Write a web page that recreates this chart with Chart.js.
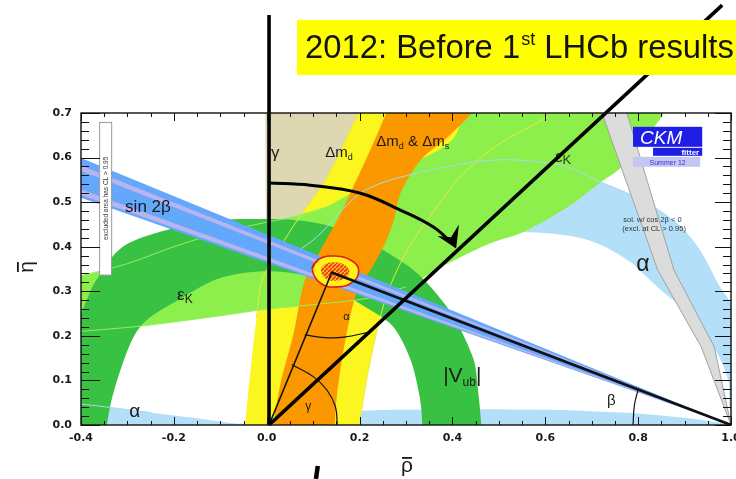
<!DOCTYPE html>
<html>
<head>
<meta charset="utf-8">
<script src="https://cdn.jsdelivr.net/npm/chart.js@4.4.1/dist/chart.umd.min.js"></script>
<style>
  html, body { margin: 0; padding: 0; background: #ffffff; }
  #c { display: block; }
</style>
</head>
<body>
<canvas id="c" width="736" height="479"></canvas>
<script>
// Axis tick labels
const rhoTicks = [-0.4, -0.2, 0.0, 0.2, 0.4, 0.6, 0.8, 1.0];
const etaTicks = [0.0, 0.1, 0.2, 0.3, 0.4, 0.5, 0.6, 0.7];

// Constraint regions, boundary points as [rho, eta]
const gammaWedge = [[0.0, 0.0], [-0.004, 0.95], [0.83, 0.95], [0.0, 0.0]];
const alphaStrip = [[-0.45, -0.1], [-0.45, 0.052], [-0.4, 0.047], [-0.35, 0.041], [-0.25, 0.028], [-0.15, 0.015],
  [-0.06, 0.003], [0.0, 0.005], [0.1, 0.02], [0.2, 0.032], [0.4, 0.035], [0.6, 0.034], [0.7, 0.031], [0.8, 0.026],
  [0.9, 0.016], [0.97, 0.006], [1.0, 0.0], [1.05, -0.1]];
const alphaCrescent = [[0.05, 0.33], [0.06, 0.385], [0.108, 0.422], [0.202, 0.52], [0.288, 0.556], [0.482, 0.594],
  [0.633, 0.583], [0.72, 0.545], [0.811, 0.505], [0.884, 0.453], [0.933, 0.393], [0.976, 0.31], [1.02, 0.236],
  [1.03, 0.0], [1.0, 0.025], [0.994, 0.101], [0.963, 0.175], [0.907, 0.251], [0.849, 0.303], [0.821, 0.33],
  [0.784, 0.365], [0.72, 0.404], [0.655, 0.424], [0.553, 0.433], [0.45, 0.428], [0.35, 0.41], [0.2, 0.37],
  [0.1, 0.34], [0.05, 0.33]];
const dmdOuter = [[-0.05, -0.1], [-0.046, 0.0], [-0.035, 0.12], [-0.022, 0.24], [-0.01, 0.325], [0.03, 0.40],
  [0.066, 0.46], [0.13, 0.556], [0.2, 0.706], [0.225, 0.76]];
const dmdInner = [[0.66, 0.76], [0.605, 0.69], [0.5, 0.63], [0.42, 0.56], [0.36, 0.48], [0.303, 0.393],
  [0.26, 0.296], [0.235, 0.2], [0.215, 0.1], [0.2, 0.0], [0.2, -0.1]];
const epsKUpper = [[-0.45, 0.325], [-0.4, 0.335], [-0.3, 0.362], [-0.2, 0.40], [-0.1, 0.432], [0.0, 0.455],
  [0.06, 0.468], [0.122, 0.487], [0.2, 0.53], [0.3, 0.58], [0.4, 0.64], [0.46, 0.76]];
const epsKLower = [[0.87, 0.76], [0.855, 0.70], [0.80, 0.625], [0.76, 0.575], [0.72, 0.545], [0.65, 0.49],
  [0.553, 0.433], [0.482, 0.408], [0.418, 0.377], [0.375, 0.354], [0.3, 0.31], [0.22, 0.285], [0.1, 0.27],
  [0.0, 0.26], [-0.1, 0.245], [-0.27, 0.222], [-0.4, 0.21], [-0.45, 0.205]];
const vubOuter = [[0.465, -0.1], [0.462, 0.0], [0.455, 0.08], [0.446, 0.146], [0.403, 0.242], [0.346, 0.318],
  [0.3, 0.36], [0.223, 0.408], [0.13, 0.448], [0.057, 0.46], [-0.014, 0.462], [-0.1, 0.46], [-0.2, 0.442],
  [-0.31, 0.40], [-0.37, 0.32], [-0.4, 0.25], [-0.43, 0.2], [-0.47, 0.0], [-0.47, -0.1]];
const vubInner = [[-0.344, -0.1], [-0.344, 0.0], [-0.322, 0.101], [-0.273, 0.22], [-0.18, 0.287], [-0.1, 0.33],
  [0.0, 0.345], [0.1, 0.33], [0.223, 0.258], [0.273, 0.22], [0.31, 0.146], [0.33, 0.06], [0.335, 0.0], [0.335, -0.1]];
const dmsLeft = [[0.012, -0.1], [0.015, 0.0], [0.03, 0.094], [0.058, 0.206], [0.08, 0.318], [0.1, 0.36],
  [0.125, 0.41], [0.152, 0.46], [0.18, 0.52], [0.223, 0.617], [0.26, 0.706], [0.28, 0.76]];
const dmsRight = [[0.475, 0.76], [0.446, 0.706], [0.39, 0.646], [0.331, 0.594], [0.288, 0.52], [0.274, 0.46],
  [0.255, 0.408], [0.225, 0.35], [0.195, 0.3], [0.175, 0.22], [0.158, 0.12], [0.148, 0.03], [0.145, -0.1]];
const sin2bSolution = [[0.70, 0.76], [0.72, 0.706], [0.842, 0.348], [0.936, 0.175], [1.0, 0.0],
  [0.964, 0.175], [0.877, 0.348], [0.774, 0.706], [0.765, 0.76]];
const sin2bBand = [[1.0, 0.0], [-0.5, 0.642], [-0.5, 0.546]];
const sin2bStripeHigh = [[1.0, 0.0], [-0.5, 0.624], [-0.5, 0.611]];
const sin2bStripeLow = [[1.0, 0.0], [-0.5, 0.566], [-0.5, 0.553]];
const fitOuter = [[0.098, 0.351], [0.112, 0.372], [0.148, 0.379], [0.184, 0.368], [0.198, 0.348],
  [0.187, 0.322], [0.152, 0.310], [0.116, 0.318]];
const fitInner = [[0.117, 0.348], [0.126, 0.361], [0.148, 0.365], [0.169, 0.358], [0.178, 0.346],
  [0.171, 0.331], [0.150, 0.324], [0.128, 0.328]];

// Unitarity triangle and angle arcs
const utApex = [0.14, 0.342];
const utLeftSide = [[0.005, 0.0], utApex];
const utRightSide = [utApex, [1.0, 0.0]];
const gammaArc = [[0.055, 0.135], [0.101, 0.108], [0.13, 0.078], [0.148, 0.041], [0.152, 0.0]];
const alphaArc = [[0.083, 0.202], [0.125, 0.196], [0.166, 0.197], [0.223, 0.209]];
const betaArc = [[0.80, 0.08], [0.792, 0.045], [0.789, 0.0]];

// Overlay drawing: axis-like strokes and the sweeping arrow
const verticalStroke = [[0.005, 0.0], [0.005, 0.92]];
const gammaStroke = [[0.005, 0.0], [0.981, 0.942]];
const arrowPath = [[0.003, 0.543], [0.094, 0.538], [0.202, 0.52], [0.288, 0.482], [0.359, 0.444], [0.402, 0.405]];
const arrowHead = [[0.408, 0.396], [0.368, 0.424], [0.397, 0.421], [0.414, 0.45]];
const bottomStroke = [[0.110, -0.092], [0.106, -0.121]];

function pts(a) { return a.map(p => ({ x: p[0], y: p[1] })); }
function closeSmooth(a) { return a.concat([a[0], a[1]]); }

let layer = 0;
function region(a, color, opt) {
  layer++;
  return Object.assign({
    data: pts(a), showLine: true, fill: 'shape', backgroundColor: color,
    borderWidth: 0, borderColor: 'rgba(0,0,0,0)', pointRadius: 0, tension: 0.3, order: 1000 - layer
  }, opt || {});
}
function stroke(a, color, width, opt) {
  layer++;
  return Object.assign({
    data: pts(a), showLine: true, fill: false, borderColor: color, borderWidth: width,
    pointRadius: 0, tension: 0, order: 1000 - layer, borderCapStyle: 'round', borderJoinStyle: 'round'
  }, opt || {});
}

// hatched pattern for the central fit region
function hatch() {
  const c = document.createElement('canvas');
  c.width = 4; c.height = 4;
  const g = c.getContext('2d');
  g.fillStyle = '#ffb020'; g.fillRect(0, 0, 4, 4);
  g.strokeStyle = '#e8300c'; g.lineWidth = 1.4;
  g.beginPath(); g.moveTo(0, 4); g.lineTo(4, 0); g.stroke();
  return g.createPattern(c, 'repeat');
}

const datasets = [
  region(gammaWedge, '#ddd7b2', { tension: 0 }),
  region(alphaStrip, '#b3e0f8'),
  region(alphaCrescent, '#b3e0f8'),
  region(dmdOuter.concat(dmdInner), '#fbf520'),
  region(epsKUpper.concat(epsKLower), '#8cef4c'),
  region(vubOuter.concat(vubInner), '#38c142'),
  region(dmsLeft.concat(dmsRight), '#fb9800'),
  stroke(dmdInner.slice(1, 10), '#eaea3a', 1, { tension: 0.3 }),
  stroke(dmdOuter.slice(3, 9), '#eaea3a', 1, { tension: 0.3 }),
  stroke(alphaCrescent.slice(1, 9), '#a6daf4', 1, { tension: 0.3 }),
  stroke(alphaStrip.slice(1, 5), '#a6daf4', 1, { tension: 0.3 }),
  stroke(epsKUpper.slice(0, 8), '#96f060', 1, { tension: 0.3 }),
  stroke(epsKLower.slice(10), '#96f060', 1, { tension: 0.3 }),
  region(sin2bSolution, '#dcdcdc', { tension: 0, borderWidth: 1, borderColor: '#a2a2a2' }),
  region(sin2bBand, '#64a8fc', { tension: 0 }),
  region(sin2bStripeHigh, '#b8b4f0', { tension: 0 }),
  region(sin2bStripeLow, '#b8b4f0', { tension: 0 }),
  region(closeSmooth(fitOuter), '#fff21a', { tension: 0.45, borderWidth: 1.6, borderColor: '#e61a10' }),
  region(closeSmooth(fitInner), hatch(), { tension: 0.45, id: 'fitInner' }),
  stroke(utLeftSide, '#111', 1.6),
  stroke(utRightSide, '#111', 2.6),
  stroke(gammaArc, '#111', 1.2, { tension: 0.4 }),
  stroke(alphaArc, '#111', 1.2, { tension: 0.4 }),
  stroke(betaArc, '#111', 1.2, { tension: 0.4 }),
  stroke(verticalStroke, '#000', 3.6, { clip: false, borderCapStyle: 'butt' }),
  stroke(gammaStroke, '#000', 3.6, { clip: false, borderCapStyle: 'butt' }),
  stroke(arrowPath, '#000', 3, { tension: 0.4, borderCapStyle: 'butt' }),
  region(arrowHead, '#000', { tension: 0 }),
  stroke(bottomStroke, '#000', 4.5, { clip: false, borderCapStyle: 'butt' })
];

// Text placed inside the plot, anchored in (rho, eta)
const regionLabels = [
  { at: [0.009, 0.599], parts: [['γ', 17]] },
  { at: [0.126, 0.601], parts: [['Δm', 15], ['d', 9, 3]] },
  { at: [0.236, 0.626], parts: [['Δm', 15], ['d', 9, 3], [' & ', 15], ['Δm', 15], ['s', 9, 3]] },
  { at: [0.621, 0.590], parts: [['ε', 17], ['K', 13, 2]], color: '#2b3a22' },
  { at: [-0.193, 0.280], parts: [['ε', 17], ['K', 12, 3]] },
  { at: [-0.305, 0.478], parts: [['sin 2β', 17]] },
  { at: [0.796, 0.346], parts: [['α', 23]] },
  { at: [-0.296, 0.018], parts: [['α', 19]] },
  { at: [0.165, 0.236], parts: [['α', 11]] },
  { at: [0.083, 0.034], parts: [['γ', 12]] },
  { at: [0.733, 0.045], parts: [['β', 15]] },
  { at: [0.380, 0.096], parts: [['|V', 21], ['ub', 12, 4], ['|', 21]] },
  { at: [0.768, 0.455], parts: [['sol. w/ cos 2β < 0', 7.5]], color: '#333' },
  { at: [0.766, 0.436], parts: [['(excl. at CL > 0.95)', 7.5]], color: '#333' }
];

const FONT = '"Liberation Sans", Arial, Helvetica, sans-serif';
const TICK_FONT = '"DejaVu Sans", "Liberation Sans", sans-serif';

function rich(ctx, parts, x, y, color) {
  ctx.fillStyle = color || '#1a1a1a';
  ctx.textBaseline = 'alphabetic';
  ctx.textAlign = 'left';
  let cx = x;
  for (const p of parts) {
    ctx.font = p[1] + 'px ' + FONT;
    ctx.fillText(p[0], cx, y + (p[2] || 0));
    cx += ctx.measureText(p[0]).width;
  }
}

function drawRegionLabels(chart) {
  const { ctx, scales: { x, y } } = chart;
  ctx.save();
  for (const l of regionLabels) {
    rich(ctx, l.parts, x.getPixelForValue(l.at[0]), y.getPixelForValue(l.at[1]), l.color);
  }
  // CKMfitter badge
  const bx = x.getPixelForValue(0.789), by = y.getPixelForValue(0.669);
  const bw = x.getPixelForValue(0.938) - bx;
  ctx.fillStyle = '#1e1ee6';
  ctx.fillRect(bx, by, bw, 20);
  ctx.fillStyle = '#ffffff';
  ctx.font = 'italic 19px ' + FONT;
  ctx.fillText('CKM', bx + 7, by + 17);
  ctx.fillStyle = '#1e1ee6';
  ctx.fillRect(bx + 20, by + 21, bw - 20, 8);
  ctx.fillStyle = '#ffffff';
  ctx.font = 'bold 8px ' + FONT;
  ctx.textAlign = 'right';
  ctx.fillText('fitter', bx + bw - 3, by + 28);
  ctx.fillStyle = '#c6c6f2';
  ctx.fillRect(bx, by + 30, bw - 2, 10);
  ctx.fillStyle = '#3434d8';
  ctx.font = '7px ' + FONT;
  ctx.textAlign = 'center';
  ctx.fillText('Summer 12', bx + bw / 2, by + 38);
  // exclusion note on the left
  const ex = x.getPixelForValue(-0.361), ey = y.getPixelForValue(0.680);
  const ew = x.getPixelForValue(-0.335) - ex, eh = y.getPixelForValue(0.337) - ey;
  ctx.fillStyle = '#ffffff';
  ctx.fillRect(ex, ey, ew, eh);
  ctx.strokeStyle = '#9a9a9a'; ctx.lineWidth = 1;
  ctx.strokeRect(ex + 0.5, ey + 0.5, ew, eh);
  ctx.translate(ex + ew / 2 + 2.5, ey + eh / 2);
  ctx.rotate(-Math.PI / 2);
  ctx.fillStyle = '#333';
  ctx.font = '6.5px ' + FONT;
  ctx.textAlign = 'center';
  ctx.fillText('excluded area has CL > 0.95', 0, 0);
  ctx.restore();
}

function drawFrame(chart) {
  const { ctx, chartArea: a, scales: { x, y } } = chart;
  ctx.save();
  ctx.strokeStyle = '#111';
  ctx.lineWidth = 1;
  ctx.beginPath();
  const r0 = rhoTicks[0], r1 = rhoTicks[rhoTicks.length - 1];
  const nx = Math.round((r1 - r0) / 0.05);
  for (let k = 0; k <= nx; k++) {
    const px = Math.round(x.getPixelForValue(r0 + k * 0.05)) + 0.5;
    const L = k % 4 === 0 ? 8 : 4;
    ctx.moveTo(px, a.bottom); ctx.lineTo(px, a.bottom - L);
    ctx.moveTo(px, a.top); ctx.lineTo(px, a.top + L);
  }
  const e1 = etaTicks[etaTicks.length - 1];
  const ny = Math.round(e1 / 0.02);
  for (let k = 0; k <= ny; k++) {
    const py = Math.round(y.getPixelForValue(k * 0.02)) + 0.5;
    const major = k % 5 === 0;
    ctx.moveTo(a.left, py); ctx.lineTo(a.left + (major ? 19 : 8), py);
    ctx.moveTo(a.right, py); ctx.lineTo(a.right - (major ? 16 : 8), py);
  }
  ctx.stroke();
  ctx.lineWidth = 1.4;
  ctx.strokeRect(a.left, a.top, a.right - a.left, a.bottom - a.top);
  ctx.restore();
}

function drawOverlayText(chart) {
  const { ctx, chartArea: a } = chart;
  ctx.save();
  // headline box
  ctx.fillStyle = '#ffff00';
  ctx.fillRect(297, 20, 440, 55);
  const main = '2012: Before 1', sup = 'st', rest = ' LHCb results';
  let fs = 32;
  const widthAt = s => {
    ctx.font = s + 'px ' + FONT; const w1 = ctx.measureText(main).width + ctx.measureText(rest).width;
    ctx.font = (s * 0.55) + 'px ' + FONT; return w1 + ctx.measureText(sup).width;
  };
  fs = fs * 428 / widthAt(fs);
  ctx.fillStyle = '#141414';
  ctx.textBaseline = 'alphabetic';
  let cx = 305;
  ctx.font = fs + 'px ' + FONT; ctx.fillText(main, cx, 58); cx += ctx.measureText(main).width;
  ctx.font = (fs * 0.55) + 'px ' + FONT; ctx.fillText(sup, cx + 1, 45); cx += ctx.measureText(sup).width + 1;
  ctx.font = fs + 'px ' + FONT; ctx.fillText(rest, cx, 58);

  // axis titles: rho-bar and eta-bar
  ctx.fillStyle = '#1a1a1a';
  ctx.font = '21px ' + FONT;
  ctx.textAlign = 'center';
  const rx = (a.left + a.right) / 2 + 1;
  ctx.fillText('ρ', rx, 472);
  ctx.fillRect(rx - 5, 457, 10, 1.8);
  ctx.translate(33, 267);
  ctx.rotate(-Math.PI / 2);
  ctx.fillText('η', 0, 0);
  ctx.fillRect(-5, -16, 10, 1.8);
  ctx.restore();
}

const decor = {
  id: 'decor',
  afterDatasetDraw(chart, args) {
    if (chart.data.datasets[args.index].id === 'fitInner') drawRegionLabels(chart);
  },
  afterDatasetsDraw(chart) { drawFrame(chart); },
  afterDraw(chart) { drawOverlayText(chart); }
};

new Chart(document.getElementById('c'), {
  type: 'scatter',
  data: { datasets },
  options: {
    responsive: false,
    animation: false,
    events: [],
    devicePixelRatio: 1,
    layout: { padding: { left: 0, right: 5, top: 113, bottom: 0 } },
    plugins: { legend: { display: false }, tooltip: { enabled: false } },
    elements: { point: { radius: 0 }, line: { capBezierPoints: false } },
    scales: {
      x: {
        type: 'linear', min: -0.4, max: 1.0,
        afterFit(s) { s.height = 54; s.paddingLeft = 0; s.paddingRight = 0; },
        afterBuildTicks(s) { s.ticks = rhoTicks.map(v => ({ value: v })); },
        ticks: {
          autoSkip: false, maxRotation: 0, padding: 7, color: '#1a1a1a',
          font: { family: TICK_FONT, size: 11, weight: 'bold' },
          callback: v => Number(v).toFixed(1)
        },
        grid: { display: false, drawTicks: false },
        border: { display: false }
      },
      y: {
        type: 'linear', min: 0, max: 0.7,
        afterFit(s) { s.width = 81; s.paddingTop = 0; s.paddingBottom = 0; },
        afterBuildTicks(s) { s.ticks = etaTicks.map(v => ({ value: v })); },
        ticks: {
          autoSkip: false, padding: 9, color: '#1a1a1a',
          font: { family: TICK_FONT, size: 11, weight: 'bold' },
          callback: v => Number(v).toFixed(1)
        },
        grid: { display: false, drawTicks: false },
        border: { display: false }
      }
    }
  },
  plugins: [decor]
});
</script>
</body>
</html>
